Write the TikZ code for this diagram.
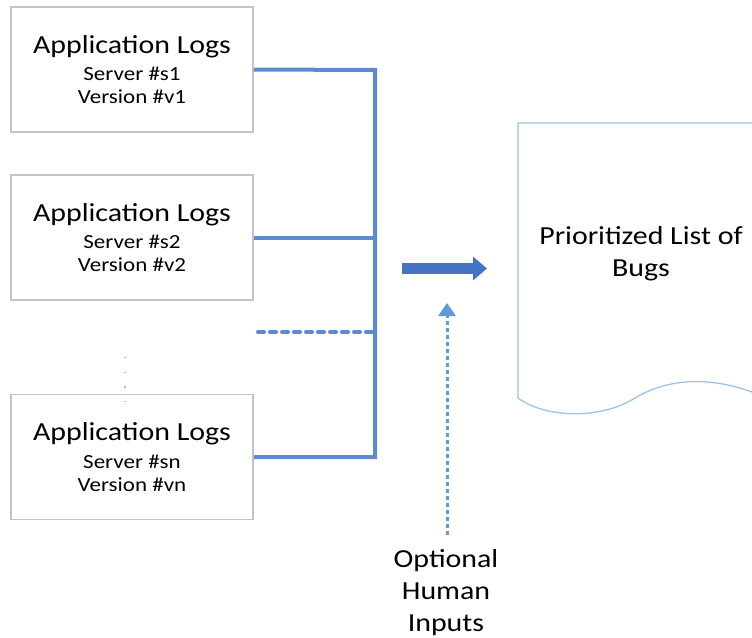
\documentclass[tikz,border=0pt]{standalone}
\usepackage{fontspec}
\setmainfont[FakeStretch=1.15]{Carlito}
\usetikzlibrary{arrows.meta}
\definecolor{boxgray}{HTML}{C4C4C4}
\definecolor{connblue}{HTML}{5B8DCE}
\definecolor{arrowblue}{HTML}{4472C4}
\definecolor{docblue}{HTML}{9DC3E6}
\definecolor{hintblue}{HTML}{5B9BD5}
\tikzset{
  logbox/.style={draw=boxgray, line width=1.5pt, minimum width=242pt, minimum height=125pt, inner sep=0pt, align=center, fill=white, font=\fontsize{20}{23}\selectfont},
  conn/.style={draw=connblue, line width=4pt},
  dashconn/.style={draw=connblue, line width=4pt, dash pattern=on 6pt off 6pt, line cap=round},
  bigarrow/.style={draw=arrowblue, line width=11pt, -{Triangle[width=23pt,length=14pt]}},
  hintarrow/.style={draw=hintblue, line width=3pt, dash pattern=on 4pt off 3pt, -{Triangle[width=17pt,length=13pt]}},
  txt/.style={align=center, inner sep=0pt, font=\fontsize{26}{32}\selectfont}
}
\newcommand{\logtext}[2]{{\fontsize{26}{29}\selectfont Application Logs}\\[4.5pt]Server \##1\\Version \##2}
\begin{document}
\begin{tikzpicture}[x=1pt,y=-1pt]
\useasboundingbox (0,0) rectangle (752,637);
\fill[white] (0,0) rectangle (752,637);
% boxes
\node[logbox] (b1) at (132,69.5) {\logtext{s1}{v1}};
\node[logbox] (b2) at (132,237.5) {\logtext{s2}{v2}};
\node[logbox] (b3) at (132,457) {\logtext{sn}{vn}};
% dots between boxes
\draw[black!30, line width=1.2pt, dash pattern=on 1.2pt off 13.5pt] (125,357) -- (125,402);
% bus
\coordinate (j1) at (375,70);
\coordinate (j3) at (375,457);
\coordinate (d0) at (258,332);
\draw[conn] (b1.east) -- (j1) -- (j3) -- (b3.east);
\draw[conn] (b2.east) -- (b2.east -| j1);
\draw[dashconn] (d0) -- (d0 -| j1);
% big arrow
\coordinate (a0) at (402,268.5);
\coordinate (a1) at (487,268.5);
\draw[bigarrow] (a0) -- (a1);
% document
\draw[docblue, line width=1.3pt] (752,123) -- (518,123) -- (518,398)
  .. controls (545,418) and (600,420) .. (635,398)
  .. controls (665,380) and (705,375) .. (752,392);
\node[txt] (doc) at (641,254) {Prioritized List of\\Bugs};
% human inputs
\node[txt] (hum) at (446,593) {Optional\\Human\\Inputs};
\coordinate (h0) at (447,535);
\coordinate (h1) at (447,303);
\draw[hintarrow] (h0) -- (h1);
\end{tikzpicture}
\end{document}
